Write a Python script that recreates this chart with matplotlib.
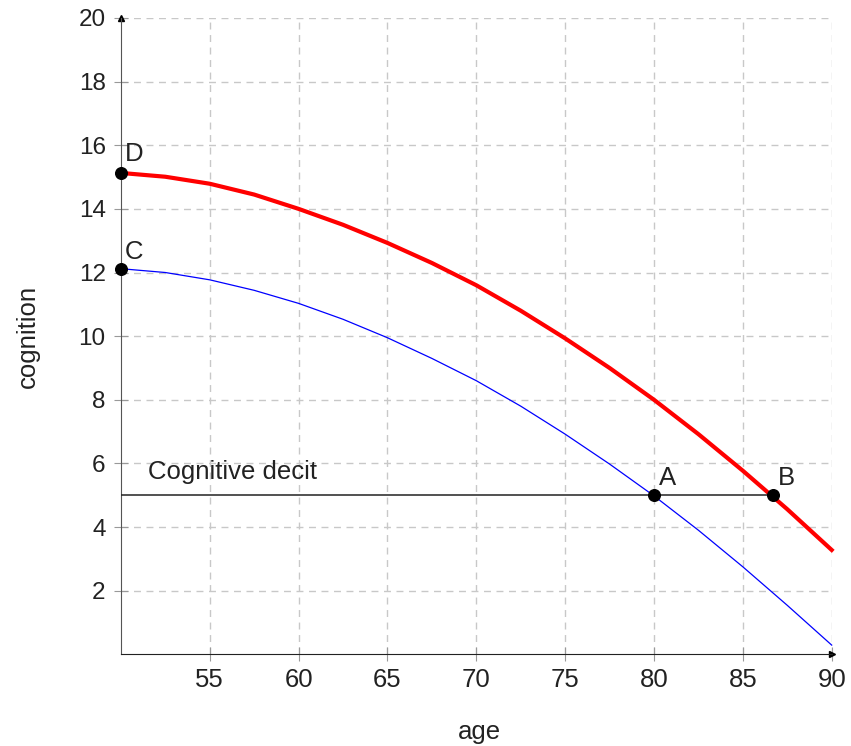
import matplotlib.pyplot as plt
import numpy as np

plt.rcParams['font.family'] = ['Liberation Sans', 'DejaVu Sans']

# values
ages = [50, 52.5, 55, 57.5, 60, 62.5, 65, 67.5, 70, 72.5, 75, 77.5, 80, 82.5, 85, 87.5, 90]
low_curve = [12.12, 12.00, 11.77, 11.44, 11.03, 10.53, 9.95, 9.30, 8.60, 7.80, 6.92, 5.98, 4.98, 3.90, 2.75, 1.54, 0.29]
high_curve = [15.13, 15.01, 14.79, 14.45, 14.00, 13.50, 12.93, 12.30, 11.60, 10.80, 9.93, 9.00, 8.00, 6.92, 5.77, 4.56, 3.28]

deficit_level = 5
point_names = ['A', 'B', 'C', 'D']
point_x = [80, 86.68, 50, 50]
point_y = [5, 5, 12.12, 15.13]
label_x = [80.28, 86.98, 50.23, 50.23]
label_y = [5.33, 5.33, 12.41, 15.49]

xticks = [55, 60, 65, 70, 75, 80, 85, 90]
yticks = [2, 4, 6, 8, 10, 12, 14, 16, 18, 20]

txt = '#222222'

fig = plt.figure(figsize=(8.51, 7.46), dpi=100)
ax = fig.add_axes([0.1421, 0.1229, 0.8352, 0.8530])
ax.set_xlim(50, 90)
ax.set_ylim(0, 20)

ax.set_xticks(xticks)
ax.set_yticks(yticks)
ax.grid(True, color='#c8c8c8', linestyle=(0, (5, 4)), linewidth=1.0)
ax.tick_params(direction='inout', length=10, color='#999999', labelcolor=txt)
ax.tick_params(axis='x', labelsize=18.5, pad=5)
ax.tick_params(axis='y', labelsize=17.5, pad=6)

for s in ['top', 'right']:
    ax.spines[s].set_visible(False)
ax.spines['left'].set_color('#555555')
ax.spines['bottom'].set_color('#222222')

# arrows on the axes
ax.plot(1, 0, marker='>', color='black', markersize=5, transform=ax.transAxes, clip_on=False)
ax.plot(0, 1, marker='^', color='black', markersize=5, transform=ax.transAxes, clip_on=False)

ax.plot(ages, low_curve, color='#0000ff', linewidth=0.9, clip_on=False, zorder=3)
ax.plot(ages, high_curve, color='#ff0000', linewidth=3.0, clip_on=False, zorder=3,
        solid_joinstyle='round')

ax.plot([50, point_x[1]], [deficit_level, deficit_level], color='#222222', linewidth=1.1, zorder=3)
ax.text(51.55, 5.52, 'Cognitive decit', fontsize=18.5, color=txt, va='baseline', ha='left')

ax.scatter(point_x, point_y, s=70, color='black', zorder=5, clip_on=False)
for name, lx, ly in zip(point_names, label_x, label_y):
    ax.text(lx, ly, name, fontsize=18.5, color=txt, va='baseline', ha='left')

fig.text(479 / 851, 1 - 732 / 746, 'age', fontsize=18.5, color=txt, ha='center', va='center')
fig.text(27.5 / 851, 1 - 336 / 746, 'cognition', fontsize=18.5, color=txt,
         ha='center', va='center', rotation=90)

fig.savefig('out.png', dpi=100)
